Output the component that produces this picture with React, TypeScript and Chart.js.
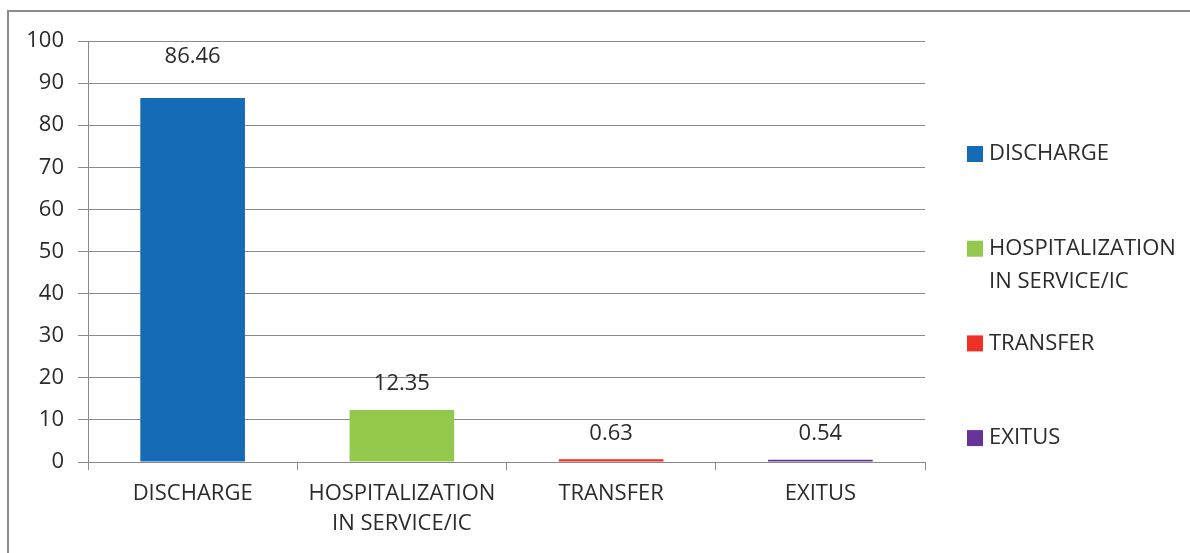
import React, { useEffect, useRef } from "react";
import { Chart, registerables } from "chart.js";

Chart.register(...registerables);

const categories: (string | string[])[] = [
  "DISCHARGE",
  ["HOSPITALIZATION", "IN SERVICE/IC"],
  "TRANSFER",
  "EXITUS",
];
const legendLabels: string[][] = [
  ["DISCHARGE"],
  ["HOSPITALIZATION", "IN SERVICE/IC"],
  ["TRANSFER"],
  ["EXITUS"],
];
const values: number[] = [86.46, 12.35, 0.63, 0.54];
const valueLabels: string[] = ["86.46", "12.35", "0.63", "0.54"];
const colors: string[] = ["#156BB5", "#92C84C", "#EE3124", "#663399"];
const yTicks: number[] = [0, 10, 20, 30, 40, 50, 60, 70, 80, 90, 100];

const FONT = "'Open Sans', sans-serif";
const FS = 22;
const TEXT = "#2b2b2b";
const GRID = "#8a8a8a";

const labelPlugin = {
  id: "valueLabels",
  afterDatasetsDraw(chart: any) {
    const ctx = chart.ctx;
    const meta = chart.getDatasetMeta(0);
    const top = chart.chartArea.top;
    ctx.save();
    ctx.font = `${FS}px ${FONT}`;
    ctx.fillStyle = TEXT;
    ctx.textAlign = "center";
    ctx.textBaseline = "middle";
    meta.data.forEach((bar: any, i: number) => {
      let y = bar.y - 26;
      if (y < top + 35) y = top + 16;
      ctx.fillText(valueLabels[i], bar.x, y);
    });
    ctx.restore();
  },
};

const legendPlugin = {
  id: "customLegend",
  afterDraw(chart: any) {
    const ctx = chart.ctx;
    ctx.save();
    ctx.font = `${FS}px ${FONT}`;
    ctx.textBaseline = "middle";
    ctx.textAlign = "left";
    const x0 = 967;
    const startY = 154;
    const step = 94.7;
    legendLabels.forEach((lines, i) => {
      const cy = startY + i * step;
      ctx.fillStyle = colors[i];
      ctx.fillRect(x0, cy - 8, 16, 16);
      ctx.fillStyle = TEXT;
      lines.forEach((ln, j) => {
        ctx.fillText(ln, x0 + 22, cy + j * 33);
      });
    });
    ctx.restore();
  },
};

export default function App() {
  const ref = useRef<HTMLCanvasElement | null>(null);
  useEffect(() => {
    document.body.style.margin = "0";
    const chart = new Chart(ref.current as HTMLCanvasElement, {
      type: "bar",
      data: {
        labels: categories,
        datasets: [
          {
            data: values,
            backgroundColor: colors,
            borderWidth: 0,
            barPercentage: 0.5,
            categoryPercentage: 1,
          },
        ],
      },
      options: {
        animation: false,
        responsive: false,
        maintainAspectRatio: false,
        layout: { padding: { left: 0, top: 41, right: 265, bottom: 0 } },
        plugins: {
          legend: { display: false },
          tooltip: { enabled: false },
        },
        scales: {
          x: {
            offset: true,
            grid: {
              display: true,
              drawOnChartArea: false,
              drawTicks: true,
              tickLength: 8,
              offset: true,
              color: GRID,
            },
            border: { display: true, color: GRID, width: 1 },
            ticks: {
              color: TEXT,
              font: { family: FONT, size: FS, lineHeight: 1.36 },
              padding: 9,
              maxRotation: 0,
              autoSkip: false,
            },
            afterFit(scale: any) {
              scale.height = 91;
            },
          },
          y: {
            min: 0,
            max: 100,
            afterBuildTicks(scale: any) {
              scale.ticks = yTicks.map((v) => ({ value: v }));
            },
            grid: {
              color: GRID,
              tickLength: 10,
              drawTicks: true,
            },
            border: { display: true, color: GRID, width: 1 },
            ticks: {
              color: TEXT,
              font: { family: FONT, size: FS },
              padding: 14,
            },
            afterFit(scale: any) {
              scale.width = 88;
            },
          },
        },
      },
      plugins: [labelPlugin, legendPlugin],
    });
    return () => chart.destroy();
  }, []);
  return (
    <div style={{ position: "relative", width: 1190, height: 553, background: "#fff" }}>
      <div
        style={{
          position: "absolute",
          left: 7,
          top: 10,
          width: 1200,
          height: 560,
          border: "2px solid #8c8c8c",
          boxSizing: "border-box",
        }}
      />
      <canvas
        ref={ref}
        width={1190}
        height={553}
        style={{ position: "absolute", left: 0, top: 0, width: 1190, height: 553 }}
      />
    </div>
  );
}
